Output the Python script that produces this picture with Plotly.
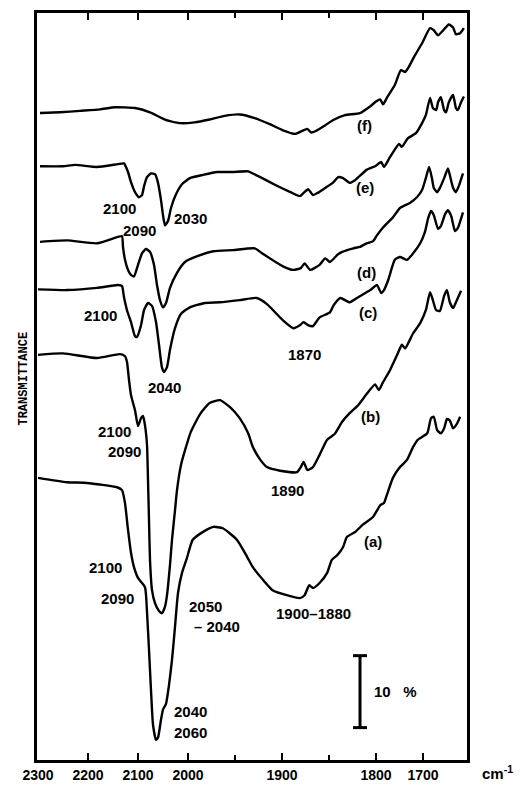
import numpy as np
import plotly.graph_objects as go

# ---- chart scale: the instrument chart is expanded 2x below 2000 cm-1 ----
scale_wn = [2300, 2000, 1800, 1600]
scale_pos = [38, 188, 376, 470]

def wn_to_u(w):
    return np.interp(-np.asarray(w, dtype=float), -np.array(scale_wn, dtype=float), scale_pos)

# ---- tick marks and labels (cm-1) ----
tick_marks = [2300, 2200, 2100, 2000, 1900, 1800, 1700]
tick_labels = ["2300", "2200", "2100", "2000", "1900", "1800", "1700"]
minor_tick_marks = [1950, 1850]

# ---- spectra (wavenumber cm-1, offset transmittance %) ----
spectrum_a_wn = [2300, 2242, 2202, 2142, 2132, 2126, 2120, 2114, 2108, 2100, 2086, 2082, 2078, 2074, 2070,
                 2064, 2060, 2054, 2050, 2044, 2038, 2032, 2026, 2020, 2012, 2002, 1995, 1984, 1973, 1963,
                 1948, 1937, 1931, 1920, 1910, 1895, 1881, 1876, 1871, 1867, 1860, 1852, 1847, 1841, 1835,
                 1831, 1822, 1814, 1803, 1791, 1783, 1777, 1764, 1749, 1734, 1721, 1711, 1691, 1683, 1677,
                 1670, 1662, 1655, 1649, 1643, 1636, 1628, 1621]
spectrum_a_t = [39.6, 39.0, 38.9, 38.3, 37.9, 36.1, 32.4, 29.2, 27.2, 25.7, 24.4, 21.0, 15.7, 10.1, 5.3,
                3.2, 3.5, 6.0, 7.4, 8.2, 10.8, 14.3, 18.9, 23.6, 26.4, 28.5, 31.0, 32.1, 32.8, 32.6,
                31.0, 28.6, 27.2, 25.4, 24.0, 23.3, 22.9, 23.3, 24.7, 24.3, 25.0, 26.4, 28.2, 28.9, 30.0,
                31.4, 32.1, 33.1, 34.2, 35.8, 36.1, 37.2, 39.6, 41.1, 42.1, 43.9, 44.9, 45.8, 47.9, 48.1,
                46.25, 45.8, 46.5, 47.8, 47.6, 46.5, 47.1, 48.1]

spectrum_b_wn = [2300, 2250, 2182, 2136, 2126, 2122, 2118, 2114, 2106, 2100, 2094, 2090, 2086, 2082, 2080,
                 2078, 2076, 2072, 2066, 2058, 2052, 2046, 2042, 2036, 2032, 2026, 2022, 2014, 2004, 1997,
                 1987, 1977, 1966, 1955, 1945, 1936, 1931, 1923, 1916, 1902, 1884, 1880, 1877, 1873, 1867,
                 1860, 1852, 1844, 1836, 1828, 1819, 1810, 1801, 1794, 1785, 1770, 1755, 1745, 1738, 1721,
                 1706, 1694, 1685, 1679, 1672, 1664, 1655, 1649, 1643, 1636, 1628, 1619]
spectrum_b_t = [56.7, 56.9, 56.25, 56.8, 56.5, 55.7, 53.2, 51.1, 49.0, 46.8, 47.9, 48.2, 46.9, 44.2, 39.3,
                33.75, 28.2, 24.0, 22.2, 21.1, 20.8, 21.7, 23.3, 27.5, 31.0, 35.1, 37.9, 41.4, 43.9, 46.0,
                48.5, 50.0, 50.4, 49.4, 47.9, 45.8, 43.9, 42.1, 41.1, 40.6, 40.4, 41.1, 41.8, 40.7, 41.1,
                42.8, 44.9, 45.7, 47.4, 48.6, 49.7, 51.25, 52.6, 51.8, 52.9, 54.6, 56.7, 58.1, 57.6, 59.7,
                61.1, 62.9, 65.4, 64.3, 62.9, 62.8, 64.9, 65.7, 64.0, 63.2, 64.3, 65.6]

spectrum_c_wn = [2300, 2242, 2182, 2140, 2132, 2128, 2122, 2114, 2106, 2102, 2094, 2088, 2080, 2072, 2064,
                 2058, 2052, 2048, 2042, 2036, 2026, 2014, 1998, 1982, 1966, 1945, 1927, 1916, 1899, 1888,
                 1881, 1877, 1872, 1867, 1860, 1849, 1845, 1838, 1828, 1819, 1806, 1798, 1789, 1783, 1774,
                 1760, 1749, 1734, 1721, 1706, 1696, 1689, 1683, 1677, 1668, 1662, 1653, 1647, 1640, 1632,
                 1626, 1615]
spectrum_c_t = [65.8, 65.7, 66.0, 66.4, 66.25, 64.7, 62.9, 61.25, 59.3, 59.2, 60.8, 62.9, 63.9, 63.5, 61.25,
                58.1, 54.9, 54.3, 55.0, 57.4, 60.4, 62.4, 63.3, 63.9, 64.0, 64.3, 64.6, 63.75, 61.5, 60.4,
                60.8, 61.25, 60.8, 60.7, 61.9, 62.6, 63.6, 64.6, 64.0, 64.7, 65.7, 66.4, 65.3, 65.7, 67.1,
                69.9, 70.3, 69.9, 70.8, 72.2, 73.75, 75.7, 76.7, 76.1, 74.2, 74.6, 76.25, 76.8, 76.0, 73.9,
                74.3, 76.5]

spectrum_d_wn = [2296, 2242, 2182, 2140, 2132, 2130, 2126, 2120, 2114, 2108, 2100, 2092, 2084, 2076, 2068,
                 2062, 2056, 2050, 2044, 2036, 2022, 2006, 1990, 1973, 1952, 1929, 1920, 1899, 1888, 1880,
                 1876, 1870, 1860, 1854, 1849, 1841, 1836, 1824, 1817, 1810, 1803, 1798, 1785, 1764, 1749,
                 1728, 1713, 1702, 1694, 1687, 1681, 1677, 1670, 1664, 1655, 1647, 1643, 1636, 1630, 1623,
                 1615]
spectrum_d_t = [72.4, 72.6, 72.2, 73.1, 73.2, 71.7, 69.9, 68.5, 67.8, 67.6, 69.2, 70.8, 71.4, 71.0, 69.2,
                66.4, 64.3, 63.3, 63.9, 66.0, 68.1, 69.6, 70.4, 71.1, 71.25, 71.5, 70.7, 69.0, 68.5, 68.75,
                69.4, 68.5, 69.2, 70.1, 69.6, 70.6, 71.0, 71.5, 71.7, 72.2, 72.5, 73.3, 74.4, 75.8, 77.1,
                77.8, 78.6, 79.6, 81.25, 82.8, 81.25, 79.9, 79.3, 79.9, 81.25, 82.6, 81.7, 79.9, 79.3, 80.3,
                81.9]

spectrum_e_wn = [2296, 2250, 2226, 2182, 2140, 2128, 2120, 2114, 2106, 2098, 2092, 2088, 2082, 2074, 2066,
                 2060, 2054, 2050, 2046, 2040, 2034, 2024, 2012, 1998, 1984, 1969, 1953, 1936, 1931, 1921,
                 1907, 1891, 1881, 1877, 1872, 1867, 1862, 1854, 1846, 1840, 1835, 1828, 1822, 1810, 1801,
                 1789, 1783, 1770, 1751, 1745, 1732, 1715, 1702, 1694, 1685, 1679, 1672, 1668, 1662, 1655,
                 1651, 1645, 1636, 1630, 1626, 1619, 1613]
spectrum_e_t = [82.9, 82.9, 83.1, 82.8, 83.2, 83.3, 82.1, 80.7, 79.3, 78.6, 78.9, 80.1, 81.4, 81.9, 81.8,
                80.6, 78.2, 76.1, 74.7, 75.3, 77.1, 79.0, 80.4, 81.25, 81.7, 82.1, 82.1, 82.2, 81.9, 81.25,
                80.3, 79.3, 78.75, 79.2, 79.7, 78.9, 79.2, 79.9, 80.6, 81.4, 81.25, 80.6, 81.0, 82.4, 82.9,
                83.5, 82.8, 84.2, 86.0, 85.6, 86.8, 87.5, 88.9, 90.0, 92.4, 91.0, 90.7, 91.8, 92.5, 90.7,
                90.4, 91.8, 92.8, 91.0, 90.7, 91.8, 92.6]

spectrum_f_wn = [2296, 2256, 2216, 2176, 2146, 2106, 2076, 2046, 2016, 1993, 1977, 1961, 1945, 1929, 1913,
                 1899, 1886, 1879, 1873, 1869, 1864, 1854, 1846, 1833, 1817, 1806, 1800, 1791, 1785, 1777,
                 1760, 1747, 1738, 1732, 1719, 1702, 1685, 1677, 1668, 1657, 1645, 1636, 1630, 1621, 1613]
spectrum_f_t = [90.3, 90.4, 90.6, 90.8, 91.1, 91.0, 90.4, 89.4, 88.9, 89.0, 89.4, 89.9, 90.1, 89.6, 88.75,
                87.9, 87.4, 87.8, 88.1, 87.6, 87.8, 88.6, 89.3, 90.0, 90.3, 91.25, 91.9, 92.2, 91.5, 92.4,
                94.2, 96.25, 96.0, 96.5, 98.1, 100.0, 102.1, 101.8, 101.1, 101.8, 102.6, 102.2, 101.25, 101.4, 102.1]

# ---- band / curve labels: (text, wavenumber, transmittance) ----
curve_labels = [("(f)", 1812, 88.5), ("(e)", 1812, 79.9), ("(d)", 1810, 68.2),
                ("(c)", 1808, 62.6), ("(b)", 1806, 48.1), ("(a)", 1803, 30.7)]
band_labels = [("2100", 2138, 77.1), ("2030", 1997, 75.6), ("2090", 2098, 74.0),
               ("2100", 2176, 62.2), ("2040", 2048, 52.2), ("1870", 1876, 56.7),
               ("2100", 2148, 46.1), ("2090", 2128, 43.3), ("1890", 1894, 37.9),
               ("2100", 2166, 27.2), ("2090", 2142, 22.9), ("2050", 1981, 21.7),
               ("– 2040", 1969, 18.9), ("1900–1880", 1866, 20.7),
               ("2040", 1997, 7.1), ("2060", 1997, 4.2)]

# scale bar: 10 % transmittance
scalebar_wn = 1817
scalebar_t0 = 4.9
scalebar_len = 10

fig = go.Figure()
spectra = [(spectrum_a_wn, spectrum_a_t), (spectrum_b_wn, spectrum_b_t), (spectrum_c_wn, spectrum_c_t),
           (spectrum_d_wn, spectrum_d_t), (spectrum_e_wn, spectrum_e_t), (spectrum_f_wn, spectrum_f_t)]
for wn, t in spectra:
    fig.add_trace(go.Scatter(x=wn_to_u(wn), y=t, mode="lines",
                             line=dict(color="black", width=2.4, shape="spline", smoothing=0.5),
                             showlegend=False, hoverinfo="skip"))

lab_font = dict(family="Liberation Sans", size=15, color="black", weight="bold")
for text, w, t in curve_labels + band_labels:
    fig.add_annotation(x=float(wn_to_u(w)), y=t, text=text, showarrow=False, font=lab_font,
                       xanchor="center", yanchor="middle")

# scale bar
xb = float(wn_to_u(scalebar_wn))
fig.add_shape(type="line", x0=xb, x1=xb, y0=scalebar_t0, y1=scalebar_t0 + scalebar_len,
              line=dict(color="black", width=3))
for yy in (scalebar_t0, scalebar_t0 + scalebar_len):
    fig.add_shape(type="line", x0=xb - 7, x1=xb + 7, y0=yy, y1=yy, line=dict(color="black", width=3))
fig.add_annotation(x=xb + 12, y=scalebar_t0 + scalebar_len / 2, text="10&nbsp;&nbsp;&nbsp;%",
                   showarrow=False, font=lab_font, xanchor="left", yanchor="middle")

# axis unit and title
fig.add_annotation(xref="paper", yref="paper", x=1.03, y=-0.0325, text="cm<sup>-1</sup>",
                   showarrow=False, font=lab_font, xanchor="left", yanchor="bottom")
fig.add_annotation(xref="paper", yref="paper", x=-0.05, y=0.51, text="TRANSMITTANCE",
                   textangle=-90, showarrow=False,
                   font=dict(family="Liberation Mono", size=12, color="black", weight="bold"))

fig.update_layout(
    width=530, height=785,
    margin=dict(l=37, r=63, t=13, b=25),
    paper_bgcolor="white", plot_bgcolor="white",
    xaxis=dict(range=[37, 467], tickvals=list(wn_to_u(tick_marks)), ticktext=tick_labels,
               ticks="inside", ticklen=7, tickwidth=2, tickcolor="black",
               automargin=False,
               minor=dict(tickvals=list(wn_to_u(minor_tick_marks)), ticks="inside", ticklen=5,
                          tickwidth=2, tickcolor="black"),
               showline=True, linewidth=3, linecolor="black", mirror="ticks",
               showgrid=False, zeroline=False,
               tickfont=dict(family="Liberation Sans", size=14, color="black", weight="bold")),
    yaxis=dict(range=[0.4, 104.2], showticklabels=False, ticks="", showline=True, linewidth=3,
               linecolor="black", mirror=True, showgrid=False, zeroline=False, automargin=False),
)

fig.write_html("out.html", config={"displayModeBar": False, "staticPlot": True},
               post_script="document.body.style.margin='0px';")
